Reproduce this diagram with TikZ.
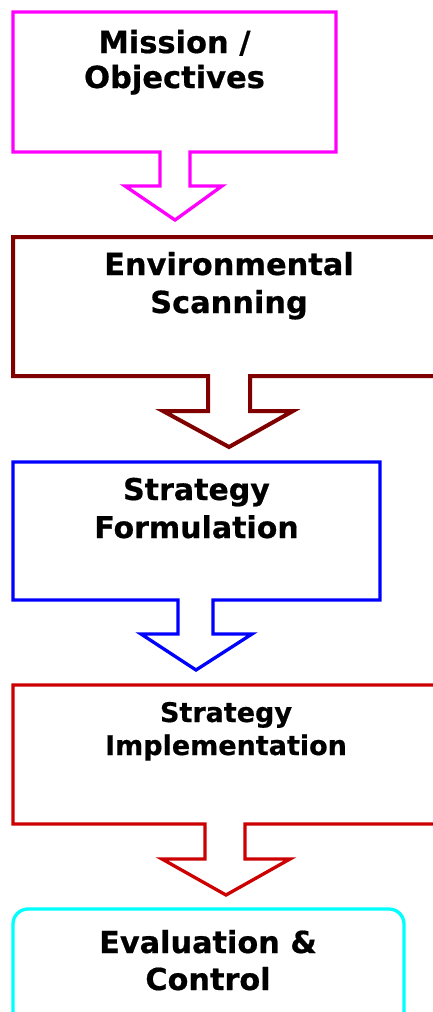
\documentclass[tikz,border=0pt]{standalone}
\usepackage{fontspec}
\setmainfont{DejaVu Sans}[BoldFeatures={FakeBold=0.6}]
\begin{document}
\begin{tikzpicture}[x=1pt,y=-1pt,
  outline/.style={line width=3.3pt, line join=miter, fill=white},
  lbl/.style={anchor=base, inner sep=0pt, font=\bfseries}]
\useasboundingbox (0,0) rectangle (433,1012);
\clip (0,0) rectangle (433,1012);
\definecolor{cmag}{RGB}{255,0,255}
\definecolor{cdark}{RGB}{128,0,0}
\definecolor{cblue}{RGB}{0,0,255}
\definecolor{cred}{RGB}{204,0,0}
\definecolor{ccyan}{RGB}{0,255,255}
% box 1
\draw[outline, draw=cmag] (160,152) -- (13,152) -- (13,12) -- (336,12) -- (336,152) -- (190,152) -- (190,186) -- (222,186) -- (175,220) -- (125,186) -- (160,186) -- cycle;
\node[lbl, font=\fontsize{30.5}{36}\selectfont\bfseries] (m1) at (174.5,53) {Mission /};
\node[lbl, font=\fontsize{30.5}{36}\selectfont\bfseries] (m2) at (174.5,88) {Objectives};
% box 2
\draw[outline, line width=4pt, draw=cdark] (208,376) -- (13,376) -- (13,237) -- (445,237) -- (445,376) -- (250,376) -- (250,411) -- (293,411) -- (229,447) -- (163,411) -- (208,411) -- cycle;
\node[lbl, font=\fontsize{30.4}{36}\selectfont\bfseries] (e1) at (229,275) {Environmental};
\node[lbl, font=\fontsize{30.4}{36}\selectfont\bfseries] (e2) at (229,313) {Scanning};
% box 3
\draw[outline, draw=cblue] (178,600) -- (13,600) -- (13,462) -- (380,462) -- (380,600) -- (213,600) -- (213,634) -- (252,634) -- (196,670) -- (141,634) -- (178,634) -- cycle;
\node[lbl, font=\fontsize{30}{36}\selectfont\bfseries] (f1) at (196.5,500) {Strategy};
\node[lbl, font=\fontsize{30}{36}\selectfont\bfseries] (f2) at (196.5,538) {Formulation};
% box 4
\draw[outline, draw=cred] (205,824) -- (13,824) -- (13,685) -- (439,685) -- (439,824) -- (245,824) -- (245,859) -- (290,859) -- (226,895) -- (162,859) -- (205,859) -- cycle;
\node[lbl, font=\fontsize{27}{32}\selectfont\bfseries] (i1) at (226,722) {Strategy};
\node[lbl, font=\fontsize{27}{32}\selectfont\bfseries] (i2) at (226,755) {Implementation};
% box 5
\draw[line width=3.3pt, draw=ccyan, fill=white, rounded corners=15pt] (13,1040) -- (13,909) -- (404,909) -- (404,1040);
\node[lbl, font=\fontsize{30.3}{36}\selectfont\bfseries] (c1) at (208,953) {Evaluation \&};
\node[lbl, font=\fontsize{30.3}{36}\selectfont\bfseries] (c2) at (208,990) {Control};
\end{tikzpicture}
\end{document}
